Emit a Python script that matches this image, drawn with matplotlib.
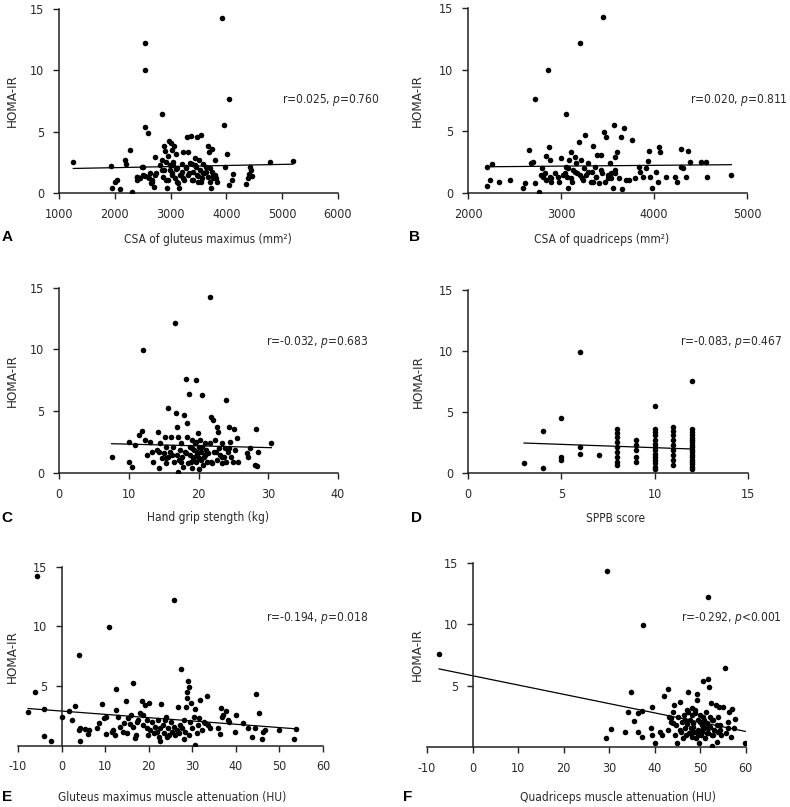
import numpy as np
import matplotlib
matplotlib.use("Agg")
from matplotlib import pyplot as plt
from matplotlib import font_manager as fm

# ---- data ----
# A: CSA of gluteus maximus vs HOMA-IR
gluteus_csa = [1257, 1925, 1955, 2000, 2040, 2100, 2190, 2200, 2265, 2310, 2390, 2400, 2480, 2500,
               2550, 2550, 2540, 2550, 2590, 2610, 2640, 2665, 2720, 2700, 2740, 2850, 2850, 2880,
               2890, 2900, 2910, 2930, 2960, 2970, 2990, 3000, 3030, 3030, 3040, 3060, 3090, 3100,
               3120, 3150, 3180, 3200, 3220, 3240, 3270, 3300, 3320, 3330, 3360, 3380, 3400, 3430,
               3450, 3480, 3490, 3510, 3540, 3550, 3580, 3600, 3630, 3670, 3680, 3700, 3720, 3750,
               3760, 3790, 3810, 3830, 3920, 3960, 3970, 4010, 4050, 4050, 4100, 4110, 4350, 4380,
               4400, 4420, 4440, 4460, 4780, 5190,
               2403, 2452, 2511, 2600, 2630, 2661, 2720, 2810, 2839, 2869, 2917, 2958, 2989, 3019,
               3048, 3079, 3108, 3138, 3168, 3198, 3228, 3276, 3317, 3347, 3378, 3407, 3437, 3467,
               3496, 3527, 3556, 3586, 3634, 3676, 3706, 3736, 3766, 3796]
homa_a = [2.5, 2.2, 0.43, 0.9, 1.1, 0.33, 2.7, 2.4, 3.5, 0.08, 1.3, 1.05, 2.15, 2.15,
          1.4, 12.25, 10.0, 5.35, 4.9, 1.2, 0.85, 0.9, 2.9, 0.5, 1.6, 6.45, 2.7, 1.9,
          3.8, 3.4, 1.05, 0.38, 3.0, 4.2, 2.3, 4.05, 3.5, 1.45, 2.55, 3.85, 1.95, 3.15,
          0.9, 0.38, 1.45, 2.4, 3.35, 1.05, 2.15, 4.55, 3.35, 1.6, 4.65, 2.4, 1.05, 2.85,
          2.15, 4.55, 1.35, 2.7, 4.7, 0.9, 2.4, 1.6, 1.75, 3.8, 3.35, 2.0, 0.38, 3.6,
          1.45, 2.7, 1.2, 0.9, 14.3, 5.55, 2.15, 3.15, 7.65, 0.62, 1.05, 1.55, 0.7, 1.2,
          1.55, 2.15, 1.9, 1.4, 2.5, 2.6,
          1.33, 1.2, 1.47, 1.33, 1.6, 1.06, 1.47, 2.28, 1.87, 1.33, 2.55, 1.06, 1.87, 1.6,
          2.28, 1.2, 2.0, 0.79, 1.47, 1.74, 1.2, 2.0, 1.47, 2.41, 1.06, 1.74, 2.28, 1.47,
          0.93, 1.87, 1.2, 1.6, 2.14, 1.33, 0.93, 1.74, 1.2, 1.47]

# B: CSA of quadriceps vs HOMA-IR
quad_csa = [2208, 2208, 2233, 2258, 2330, 2448, 2591, 2616, 2652, 2681, 2699, 2717, 2724, 2760,
            2781, 2796, 2806, 2824, 2842, 2860, 2867, 2878, 2882, 2896, 2932, 2975, 3004, 3022,
            3050, 3057, 3068, 3075, 3086, 3111, 3118, 3129, 3147, 3165, 3176, 3190, 3201, 3218,
            3226, 3247, 3262, 3272, 3290, 3319, 3333, 3348, 3362, 3373, 3391, 3405, 3427, 3441,
            3452, 3462, 3477, 3487, 3505, 3523, 3541, 3563, 3570, 3577, 3584, 3606, 3620, 3656,
            3649, 3677, 3702, 3728, 3763, 3792, 3835, 3853, 3882, 3918, 3935, 3943, 3953, 3978,
            4025, 4043, 4050, 4068, 4133, 4229, 4251, 4287, 4294, 4312, 4348, 4366, 4384, 4502,
            4563, 4570, 4832,
            2806, 2842, 2896, 2968, 3039, 3075, 3111, 3147, 3201, 3237, 3290, 3344, 3380, 3433,
            3505, 3541, 3577]
homa_b = [0.6, 2.14, 1.06, 2.33, 0.87, 1.06, 0.38, 0.79, 3.49, 2.41, 2.55, 7.64, 0.84, 0.1,
          1.46, 2.0, 1.33, 1.6, 3.03, 9.96, 3.76, 2.68, 1.33, 0.92, 1.6, 0.92, 2.82, 1.46,
          6.44, 2.14, 1.33, 0.43, 2.68, 3.36, 0.92, 1.87, 2.95, 2.41, 1.6, 4.17, 12.21, 2.68,
          1.19, 2.0, 4.71, 1.46, 2.41, 0.92, 1.73, 3.85, 2.14, 1.33, 3.09, 0.79, 3.09, 1.6,
          14.3, 4.93, 0.92, 4.52, 1.19, 2.41, 1.6, 0.38, 5.52, 2.95, 1.87, 3.36, 1.19, 0.33,
          4.52, 5.31, 1.06, 1.06, 4.3, 1.19, 2.14, 1.68, 1.33, 2.0, 2.6, 3.41, 1.33, 0.38,
          1.73, 0.92, 3.76, 3.36, 1.27, 1.33, 0.92, 3.55, 2.14, 2.0, 1.33, 3.44, 2.49, 2.49,
          2.55, 1.33, 1.46,
          1.47, 1.06, 1.2, 1.33, 1.6, 2.0, 1.2, 1.74, 1.47, 1.06, 1.74, 0.93, 1.33, 1.87,
          1.47, 1.2, 1.6]

# C: hand grip strength vs HOMA-IR
grip = [7.54, 10.07, 10.5, 10.88, 10.02, 11.41, 11.93, 11.98, 12.3, 12.55, 13.1, 13.27, 13.5, 14.0,
        14.2, 14.4, 14.5, 14.7, 15.0, 15.2, 15.3, 15.4, 15.56, 15.65, 15.9, 16.1, 16.4, 16.5,
        16.6, 16.76, 16.85, 16.95, 17.0, 17.1, 17.3, 17.45, 17.55, 17.7, 17.8, 17.95, 18.05, 18.2,
        18.3, 18.4, 18.5, 18.66, 18.76, 18.85, 19.0, 19.1, 19.2, 19.35, 19.5, 19.6, 19.7, 19.8,
        19.95, 20.0, 20.1, 20.2, 20.3, 20.4, 20.5, 20.66, 20.76, 20.9, 21.05, 21.15, 21.4, 21.6,
        21.6, 21.86, 22.0, 22.1, 22.2, 22.35, 22.6, 22.7, 22.8, 22.96, 23.05, 23.3, 23.4, 23.6,
        23.8, 23.9, 24.0, 24.25, 24.4, 24.5, 24.7, 25.0, 25.1, 25.3, 25.5, 25.7, 26.9, 27.1,
        27.4, 28.1, 28.3, 28.4, 28.5, 30.45,
        14.34, 15.3, 16.25, 17.2, 18.2, 18.9, 19.1, 19.4, 19.6, 19.8, 20.1, 20.55, 21.0, 21.75,
        22.5, 23.4, 24.4]
homa_c = [1.32, 0.86, 0.46, 2.27, 2.54, 3.08, 3.43, 9.93, 2.67, 1.46, 2.54, 1.73, 0.92, 1.86,
          3.35, 0.38, 2.4, 1.19, 1.6, 2.94, 2.13, 0.78, 5.29, 1.32, 1.73, 2.94, 2.13, 0.92,
          12.17, 4.88, 3.75, 1.46, 0.08, 2.94, 1.86, 0.92, 2.4, 1.32, 0.51, 4.69, 1.73, 7.61,
          2.94, 4.07, 0.78, 6.39, 2.13, 1.46, 2.67, 0.38, 1.19, 1.86, 2.4, 0.92, 7.53, 1.46,
          3.21, 0.3, 2.13, 2.67, 1.05, 1.73, 6.34, 0.65, 1.32, 2.4, 1.86, 0.92, 1.59, 14.24,
          2.4, 4.56, 0.78, 4.29, 1.73, 2.67, 3.75, 1.05, 3.35, 2.0, 1.46, 0.78, 2.4, 1.32,
          2.0, 5.93, 0.92, 1.73, 3.75, 2.54, 1.32, 0.92, 3.53, 1.86, 2.8, 0.92, 1.59, 1.32,
          2.0, 0.65, 3.56, 0.57, 1.73, 2.45,
          1.73, 1.19, 1.46, 1.05, 1.59, 0.92, 2.0, 1.32, 2.54, 1.73, 1.19, 2.13, 1.46, 0.92,
          1.73, 1.32, 2.0]

# D: SPPB score vs HOMA-IR
sppb = [3, 4, 4, 5, 5, 5, 6, 6, 6, 7,
        8, 8, 8, 8, 8, 8, 8, 8, 8,
        9, 9, 9, 9, 9,
        10, 10, 10, 10, 10, 10, 10, 10, 10, 10, 10, 10, 10, 10,
        11, 11, 11, 11, 11, 11, 11, 11, 11,
        12, 12, 12, 12, 12, 12, 12, 12, 12, 12, 12, 12, 12, 12, 12, 12, 12, 12]
homa_d = [0.85, 3.47, 0.44, 4.54, 1.34, 1.07, 9.95, 2.16, 1.56, 1.45,
          3.62, 3.27, 2.94, 2.54, 2.13, 1.73, 1.32, 0.92, 0.65,
          2.67, 2.32, 1.86, 1.32, 0.92,
          5.5, 3.62, 3.35, 3.08, 2.67, 2.4, 2.13, 1.86, 1.59, 1.32, 1.05, 0.78, 0.51, 0.32,
          3.78, 3.43, 3.08, 2.67, 2.27, 1.86, 1.46, 1.05, 0.65,
          7.5, 3.62, 3.4, 3.1, 2.9, 2.7, 2.5, 2.3, 2.1, 1.9, 1.7, 1.5, 1.3, 1.1, 0.9, 0.7, 0.5, 0.3]

# E: gluteus maximus muscle attenuation vs HOMA-IR
gluteus_hu = [-7.7, -6.0, -5.55, -4.1, -4.1, -2.33, 0.05, 1.73, 2.5, 3.04, 3.9, 4.03, 4.2, 4.3,
              5.3, 6.1, 6.3, 8.2, 8.6, 9.3, 9.8, 10.2, 10.2, 10.8, 11.5, 11.9, 12.3, 12.5,
              12.6, 13.0, 13.4, 14.0, 14.3, 14.8, 15.0, 15.3, 15.7, 15.9, 16.3, 16.5, 16.8, 17.1,
              17.2, 17.6, 18.0, 18.4, 18.6, 18.8, 19.1, 19.5, 19.7, 19.9, 20.1, 20.3, 20.7, 21.1,
              21.4, 21.8, 22.2, 22.4, 22.6, 22.7, 22.9, 23.2, 23.4, 23.7, 24.0, 24.1, 24.4, 24.7,
              25.0, 25.3, 25.7, 25.9, 26.0, 26.4, 26.8, 27.0, 27.2, 27.4, 27.7, 28.0, 28.1, 28.3,
              28.6, 28.7, 28.9, 29.0, 29.2, 29.3, 29.5, 29.6, 29.9, 30.3, 30.6, 30.7, 31.0, 31.3,
              31.6, 31.8, 32.2, 32.6, 32.9, 33.3, 33.7, 34.1, 36.0, 36.3, 36.5, 36.8, 37.0, 37.8,
              38.1, 38.5, 39.7, 40.1, 41.6, 42.9, 43.7, 44.3, 44.7, 45.3, 46.0, 46.2, 46.7, 49.8,
              53.4, 53.7]
homa_e = [2.77, 4.5, 14.25, 3.04, 0.81, 0.36, 2.43, 2.9, 2.15, 3.32, 7.6, 1.26, 0.34, 1.45,
          1.37, 0.98, 1.31, 1.45, 1.87, 3.46, 2.29, 2.43, 0.95, 9.92, 1.17, 1.31, 0.89, 4.72,
          2.99, 2.43, 1.59, 1.17, 1.87, 3.74, 1.03, 2.29, 1.82, 2.57, 1.59, 5.28, 0.61, 0.89,
          1.96, 2.15, 2.71, 3.77, 1.73, 2.57, 3.41, 1.51, 2.15, 0.89, 3.55, 1.31, 2.01, 1.03,
          1.59, 1.17, 2.15, 0.75, 1.45, 0.34, 3.46, 1.73, 1.03, 2.15, 2.43, 0.75, 1.45, 0.89,
          2.01, 1.17, 1.59, 12.18, 0.89, 1.31, 3.27, 1.03, 1.73, 6.42, 1.45, 2.15, 0.56, 1.17,
          3.27, 3.97, 4.53, 5.45, 0.89, 4.94, 2.01, 3.55, 1.45, 2.43, 0.06, 3.07, 1.03, 1.73,
          2.29, 3.83, 1.31, 2.01, 1.87, 4.19, 1.73, 1.45, 1.51, 0.95, 3.13, 2.43, 2.57, 2.9,
          2.15, 2.01, 1.17, 2.57, 1.87, 1.45, 0.7, 1.45, 4.3, 2.71, 0.56, 1.17, 1.31, 1.31,
          0.56, 1.37]

# F: quadriceps muscle attenuation vs HOMA-IR
quad_hu = [-7.36, 29.6, 29.3, 37.5, 51.7, 55.5, 34.8, 30.4, 33.5, 34.1, 35.5, 36.3, 36.4, 37.3,
           37.3, 39.3, 39.5, 39.5, 40.1, 41.2, 41.7, 42.1, 43.0, 43.0, 43.2, 43.6, 43.7, 44.1,
           44.3, 44.5, 44.8, 45.0, 45.2, 45.6, 45.8, 46.1, 46.3, 46.5, 46.7, 46.8, 47.0, 47.3,
           47.4, 47.6, 47.8, 48.0, 48.1, 48.3, 48.5, 48.7, 48.9, 49.0, 49.2, 49.4, 49.5, 49.6,
           49.8, 50.0, 50.1, 50.3, 50.5, 50.7, 50.8, 50.9, 51.1, 51.2, 51.4, 51.7, 51.8, 51.9,
           52.1, 52.2, 52.4, 52.5, 52.7, 52.9, 53.1, 53.4, 53.6, 53.9, 54.0, 54.1, 54.4, 54.6,
           55.1, 55.6, 56.1, 56.2, 56.4, 56.8, 57.1, 57.5, 57.7, 59.9,
           44.1, 45.6, 46.7, 47.8, 48.5, 48.9, 49.6, 50.0, 50.4, 50.7, 51.1, 51.5, 51.8, 52.6,
           52.9, 53.7, 54.4, 48.2, 47.0]
homa_f = [7.6, 14.32, 0.76, 9.96, 12.2, 6.43, 4.52, 1.47, 1.25, 2.83, 2.15, 2.75, 1.2, 2.97,
          0.79, 1.52, 3.29, 0.98, 0.3, 1.25, 0.98, 4.19, 4.71, 1.39, 2.48, 2.07, 2.34, 2.83,
          3.43, 0.98, 1.8, 0.3, 2.48, 3.7, 1.25, 2.07, 0.71, 2.61, 1.52, 0.98, 1.85, 2.89,
          4.52, 1.12, 2.21, 1.52, 0.84, 2.61, 1.93, 1.25, 3.02, 0.71, 3.84, 4.3, 2.21, 1.39,
          0.3, 2.61, 0.98, 1.8, 1.25, 5.34, 2.21, 1.52, 0.71, 2.89, 1.93, 1.12, 5.53, 4.87,
          2.48, 1.66, 3.57, 0.98, 0.11, 2.21, 1.39, 3.43, 0.44, 2.48, 1.25, 3.29, 1.8, 0.98,
          3.29, 1.12, 2.07, 1.52, 2.89, 0.84, 3.1, 1.52, 2.29, 0.3,
          1.93, 1.39, 2.2, 1.12, 1.66, 2.75, 0.98, 2.06, 1.39, 2.47, 1.79, 1.12, 1.52, 2.2,
          0.98, 1.79, 1.39, 3.15, 3.02]

# regression lines as drawn (intercept, slope) and stats text
fit_intercepts = [1.889, 1.988, 2.475, 2.62, 2.89, 5.81]
fit_slopes = [8.86e-5, 6.46e-5, -0.01394, -0.0544, -0.0277, -0.0757]
stats_text = ["r=0.025, $\\mathit{p}$=0.760", "r=0.020, $\\mathit{p}$=0.811",
              "r=-0.032, $\\mathit{p}$=0.683", "r=-0.083, $\\mathit{p}$=0.467",
              "r=-0.194, $\\mathit{p}$=0.018", "r=-0.292, $\\mathit{p}$<0.001"]
x_labels = ["CSA of gluteus maximus (mm²)", "CSA of quadriceps (mm²)",
            "Hand grip stength (kg)", "SPPB score",
            "Gluteus maximus muscle attenuation (HU)", "Quadriceps muscle attenuation (HU)"]
panel_letters = ["A", "B", "C", "D", "E", "F"]
x_ticks = [[1000, 2000, 3000, 4000, 5000, 6000], [2000, 3000, 4000, 5000],
           [0, 10, 20, 30, 40], [0, 5, 10, 15],
           [-10, 0, 10, 20, 30, 40, 50, 60], [-10, 0, 10, 20, 30, 40, 50, 60]]

xs = [gluteus_csa, quad_csa, grip, sppb, gluteus_hu, quad_hu]
ys = [homa_a, homa_b, homa_c, homa_d, homa_e, homa_f]

# ---- font: look for a narrow / condensed face, the original uses one ----
narrow = None
for key in ['LiberationSansNarrow-Regular', 'DejaVuSansCondensed.ttf', 'RobotoCondensed-Regular',
            'Roboto_Condensed', 'OpenSans_Condensed-Regular', 'OpenSansCondensed']:
    for f in fm.fontManager.ttflist:
        if key.lower() in f.fname.replace(' ', '').lower() and f.style == 'normal':
            narrow = f
            break
    if narrow is not None:
        break

if narrow is not None:
    plt.rcParams['font.family'] = [narrow.name, 'DejaVu Sans']
    plt.rcParams['font.stretch'] = narrow.stretch
    base_font = narrow.name
else:
    plt.rcParams['font.family'] = ['Liberation Sans', 'DejaVu Sans']
    base_font = 'Liberation Sans'
TS = 8.6   # x labels and stats
KS = 9.0   # tick labels
YS = 9.6   # y label
plt.rcParams['mathtext.fontset'] = 'custom'
plt.rcParams['mathtext.rm'] = base_font
plt.rcParams['mathtext.it'] = base_font + ':italic'
plt.rcParams['axes.unicode_minus'] = False
TXT = '#2a2a2a'

W, H = 790, 807
fig = plt.figure(figsize=(W / 100, H / 100), dpi=100)

# pixel boxes (left, right, x-axis y, top y) for each panel
boxes = [(59, 338, 193, 9), (468, 747, 193, 8.3),
         (59, 338, 473, 287.7), (468, 748, 473, 290),
         (18, 323, 745.5, 566.7), (427, 745.7, 747, 563)]
ylabel_x = [-0.168, -0.18, -0.168, -0.178, -0.02, -0.031]
xlabel_x = [0.534, 0.477, 0.534, 0.528, 0.506, 0.60]
text_pos = [(1.15, 0.505), (1.147, 0.505), (1.108, 0.709), (1.12, 0.717), (1.148, 0.711), (1.113, 0.70)]
letter_pos = [(7, 237), (415, 237), (7, 518), (416, 518), (7, 797), (408, 797)]
label_y = [240, 240, 518, 518, 797, 797]

for i in range(6):
    l, r, b, t = boxes[i]
    ax = fig.add_axes([l / W, 1 - b / H, (r - l) / W, (b - t) / H])
    x = np.array(xs[i], dtype=float)
    y = np.array(ys[i], dtype=float)
    ax.scatter(x, y, s=16, color='black', linewidths=0, zorder=3)
    lx = np.array([x.min(), x.max()])
    ax.plot(lx, fit_intercepts[i] + fit_slopes[i] * lx, color='black', lw=0.9, zorder=2)

    ax.set_xlim(x_ticks[i][0], x_ticks[i][-1])
    ax.set_ylim(0, 15)
    ax.set_xticks(x_ticks[i])
    if i >= 4:
        ax.spines['left'].set_position(('data', 0))
        ax.set_yticks([5, 10, 15])
    else:
        ax.set_yticks([0, 5, 10, 15])
    for s in ['top', 'right']:
        ax.spines[s].set_visible(False)
    for s in ['left', 'bottom']:
        ax.spines[s].set_linewidth(1.1)
        ax.spines[s].set_color('#222222')
    ax.tick_params(direction='out', length=4.5, width=1.0, color='#222222',
                   labelsize=KS, labelcolor=TXT, pad=6)
    ax.patch.set_alpha(0)

    ax.set_ylabel("HOMA-IR", fontsize=YS, color=TXT)
    ax.yaxis.set_label_coords(ylabel_x[i], 0.5)
    ax.yaxis.label.set_va('center')

    ax.text(text_pos[i][0], text_pos[i][1], stats_text[i], transform=ax.transAxes,
            ha='right', va='center', fontsize=TS, color=TXT)

    # x label centred at the measured line
    fig.text((l + xlabel_x[i] * (r - l)) / W, 1 - label_y[i] / H, x_labels[i],
             ha='center', va='center', fontsize=TS, color=TXT)
    fig.text(letter_pos[i][0] / W, 1 - letter_pos[i][1] / H, panel_letters[i],
             ha='center', va='center', fontsize=11, fontweight='bold',
             family=['Liberation Sans', 'DejaVu Sans'], stretch='normal', color='black')

fig.savefig("out.png", dpi=100)
